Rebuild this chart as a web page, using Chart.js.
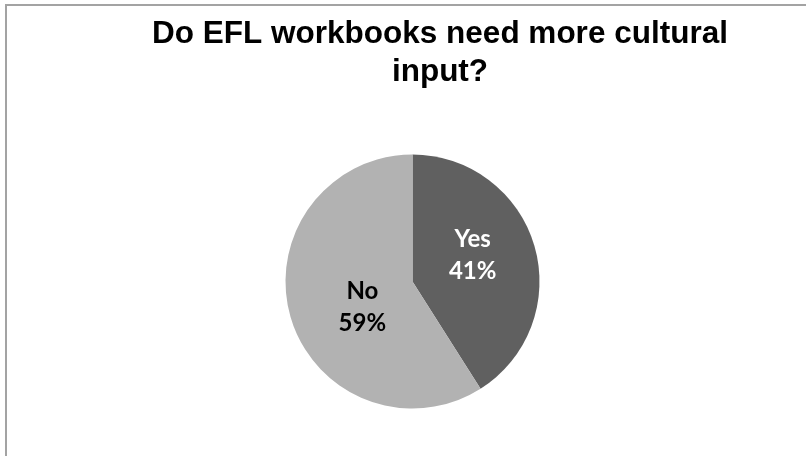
<!DOCTYPE html>
<html>
<head>
<meta charset="utf-8">
<script src="https://cdn.jsdelivr.net/npm/chart.js@4"></script>
<style>
  html, body { margin: 0; padding: 0; width: 806px; height: 456px; overflow: hidden; background: #fff; }
  #frame { position: absolute; left: 5px; top: 4px; width: 870px; height: 480px; border: 2px solid #a3a3a3; }
  #chart { display: block; }
</style>
</head>
<body>
<div id="frame"><canvas id="chart" width="866" height="480"></canvas></div>
<script>
// 데이터
const titleLines = ['Do EFL workbooks need more cultural', 'input?'];
const categories = ['Yes', 'No'];
const shares = [41, 59];
const sliceColors = ['#606060', '#b2b2b2'];
const labelColors = ['#ffffff', '#000000'];

// 파이를 제목보다 약간 왼쪽으로 옮김
const shiftPie = {
  id: 'shiftPie',
  afterLayout(chart) {
    const a = chart.chartArea;
    a.left -= 27.5;
    a.right -= 27.5;
  }
};

// 조각 안에 "이름 + 퍼센트" 표시
const sliceLabels = {
  id: 'sliceLabels',
  afterDatasetsDraw(chart) {
    const ctx = chart.ctx;
    const arcs = chart.getDatasetMeta(0).data;
    ctx.save();
    ctx.font = 'bold 24px Lato';
    ctx.textAlign = 'center';
    ctx.textBaseline = 'middle';
    arcs.forEach((arc, i) => {
      const p = arc.getProps(['x', 'y', 'startAngle', 'endAngle', 'outerRadius'], true);
      const mid = (p.startAngle + p.endAngle) / 2 - 9 * Math.PI / 180;
      const r = p.outerRadius * 0.48;
      const cx = p.x + Math.cos(mid) * r + 5;
      const cy = p.y + Math.sin(mid) * r;
      ctx.fillStyle = labelColors[i];
      ctx.fillText(categories[i], cx, cy - 16);
      ctx.fillText(shares[i] + '%', cx, cy + 16);
    });
    ctx.restore();
  }
};

new Chart(document.getElementById('chart'), {
  type: 'pie',
  data: {
    labels: categories,
    datasets: [{
      data: shares,
      backgroundColor: sliceColors,
      borderWidth: 0
    }]
  },
  options: {
    responsive: false,
    animation: false,
    layout: { padding: { left: 0, right: 0, top: 0, bottom: 77.5 } },
    plugins: {
      legend: { display: false },
      tooltip: { enabled: false },
      title: {
        display: true,
        text: titleLines,
        color: '#000',
        font: { family: '"Liberation Sans", Arial', size: 31.5, weight: 'bold', lineHeight: 38 / 31.5 },
        padding: { top: 9, bottom: 63.5 }
      }
    }
  },
  plugins: [shiftPie, sliceLabels]
});
</script>
</body>
</html>
